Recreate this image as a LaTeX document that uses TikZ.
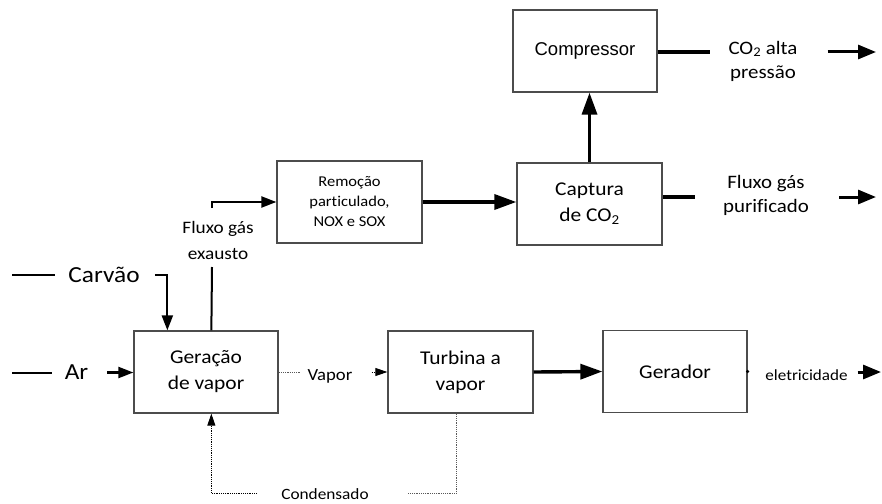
\documentclass[tikz,border=0pt]{standalone}
\usepackage{fontspec}
\setmainfont{Carlito}[FakeStretch=1.1, Ligatures=NoCommon]
\newfontfamily\arialfont{Liberation Sans}
\usetikzlibrary{arrows.meta}

\tikzset{
	box/.style={draw=black!70, line width=1.3pt, minimum width=#1, minimum height=82pt, align=center, inner sep=0pt},
	box/.default=144pt,
	lbl/.style={align=center, inner sep=0pt},
	fs/.style 2 args={font=\fontsize{#1}{#2}\selectfont},
	flow/.style={line width=2.2pt, -{Triangle[length=15pt,width=11pt]}},
	outflow/.style={line width=3pt, -{Triangle[length=18pt,width=14pt]}},
	bigflow/.style={line width=3.4pt, -{Triangle[length=22pt,width=15pt]}},
	stub/.style={line width=2pt},
	bigstub/.style={line width=3.4pt},
	cooling/.style={line width=0.9pt, black!65, dash pattern=on 1.2pt off 1pt},
	coolhead/.style={-{Triangle[length=12pt,width=8pt]}},
}

\begin{document}
\begin{tikzpicture}[x=1pt, y=-1pt]
\useasboundingbox (0,0) rectangle (882,503);

% blocos
\node[box, fs={19.5}{26}] (gv) at (206,372) {Geração\\de vapor};
\node[box=145pt, fs={19.5}{26}] (tv) at (460.5,372) {Turbina a\\vapor};
\node[box, fs={19.5}{26}] (ger) at (675,371.5) {Gerador};
\node[box=145pt, fs={15}{20}] (rem) at (349.5,202) {Remoção\\particulado,\\NOX e SOX};
\node[box=145pt, fs={19.5}{26}] (cap) at (589.5,204) {Captura\\de CO\textsubscript{2}};
\node[box, font=\arialfont\fontsize{18.5}{22}\selectfont] (comp) at (585,51) {Compressor};

% textos
\node[lbl, fs={23}{27}, anchor=base] (carvao) at (104,282) {Carvão};
\node[lbl, fs={23}{27}, anchor=base] (ar) at (76.5,379) {Ar};
\node[lbl, fs={17.5}{26}] (exausto) at (218,240) {Fluxo gás\\exausto};
\node[lbl, fs={17}{20}, anchor=base] (vapor) at (330,380) {Vapor};
\node[lbl, fs={15.7}{19}, anchor=base] (cond) at (325,499) {Condensado};
\node[lbl, fs={15.5}{18}, anchor=base] (elet) at (806.5,380) {eletricidade};
\node[lbl, fs={19}{24}] (co2) at (763,61) {CO\textsubscript{2} alta\\pressão};
\node[lbl, fs={19}{24}] (puro) at (766,195) {Fluxo gás\\purificado};

\coordinate (c0) at (12,275);
\coordinate (a0) at (12,372.5);
\coordinate (ex0) at (212,267);
\coordinate (ex1) at (212,208);
\coordinate (co2end) at (876,52);
\coordinate (puroend) at (876,197);
\coordinate (eletend) at (881,372);

% entradas
\draw[stub, shorten >=13pt] (c0) -- (c0 -| carvao.west);
\draw[flow, shorten <=15pt] (c0 -| carvao.east) -| ([xshift=34pt]gv.north west);
\draw[stub, shorten >=13pt] (a0) -- (a0 -| ar.west);
\draw[flow, shorten <=19pt] (a0 -| ar.east) -- (a0 -| gv.west);

% gases
\draw[stub] ([xshift=78pt]gv.north west) -- (ex0);
\draw[flow] (ex1) |- (rem.west);
\draw[bigflow] (rem.east) -- (rem.east -| cap.west);
\draw[bigflow] (cap.north) -- (cap.north |- comp.south);

% saidas
\draw[bigstub, shorten >=18pt] (comp.east |- co2end) -- (co2.west |- co2end);
\draw[outflow, shorten <=30pt] (co2.east |- co2end) -- (co2end);
\draw[bigstub, shorten >=28pt] (cap.east |- puroend) -- (puro.west |- puroend);
\draw[outflow, shorten <=30pt] (puro.east |- puroend) -- (puroend);

% ciclo de vapor
\draw[cooling, shorten >=7pt] (gv.east) -- (gv.east -| vapor.west);
\draw[cooling, coolhead, black, shorten <=19pt] (gv.east -| vapor.east) -- (tv.west);
\draw[bigflow] (tv.east) -- (ger.west);
\draw[cooling] ([xshift=69pt]tv.south west) |- ([xshift=38pt]cond.east);
\draw[cooling, coolhead, black, shorten <=24pt] (cond.west) -| ([xshift=78pt]gv.south west);

% eletricidade
\fill (ger.east) circle (1.8pt);
\draw[outflow, shorten <=10pt] (eletend -| elet.east) -- (eletend);
\end{tikzpicture}
\end{document}
